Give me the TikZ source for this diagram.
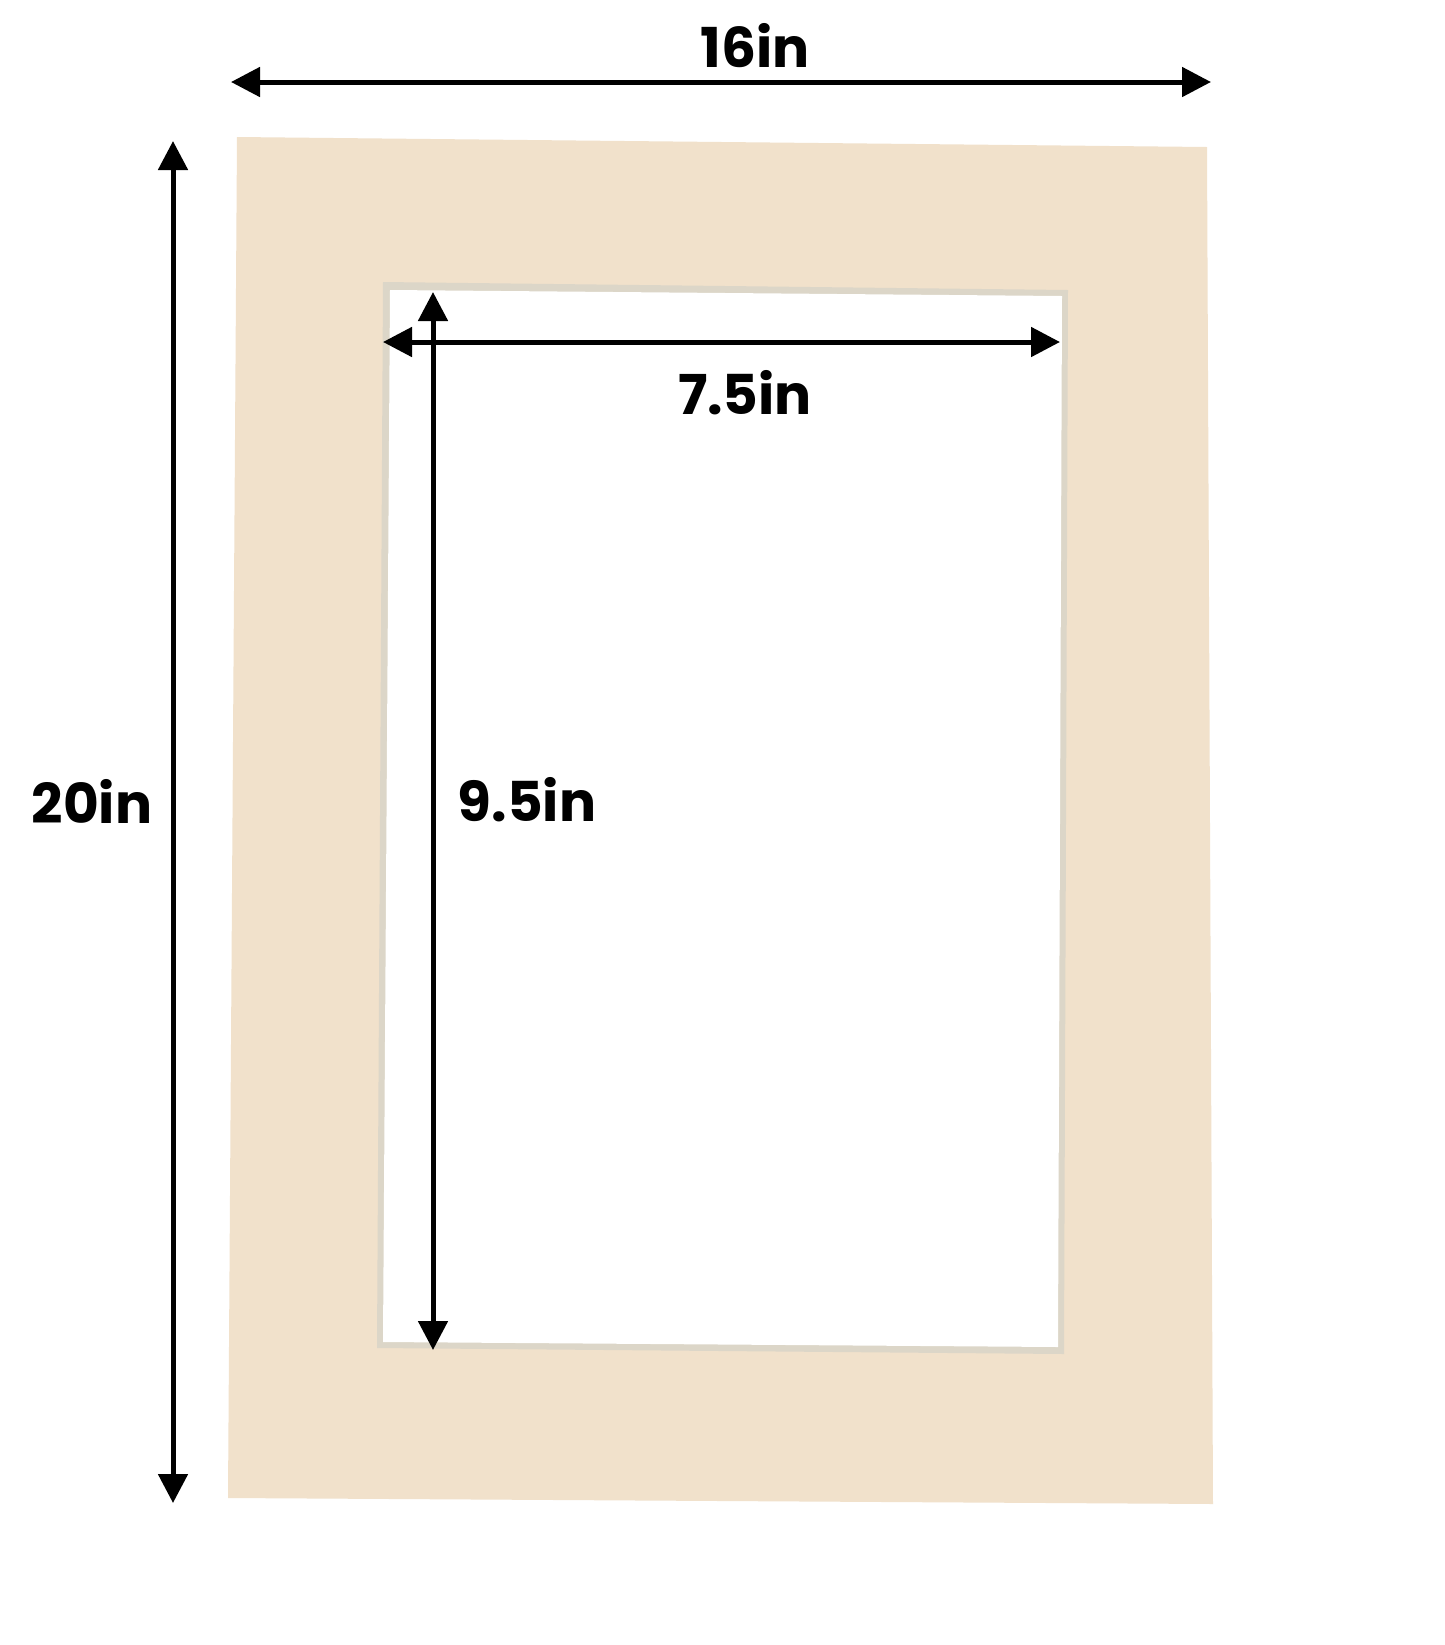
\documentclass[tikz,border=0pt]{standalone}
\usepackage{fontspec}
\setmainfont{Poppins}
\usetikzlibrary{arrows.meta}
\definecolor{matcolor}{RGB}{241,225,203}
\definecolor{bevelcolor}{RGB}{220,214,200}
\begin{document}
\begin{tikzpicture}[x=0.5pt, y=-0.5pt,
  dim/.style={{Triangle[length=14.5pt,width=14.5pt]}-{Triangle[length=14.5pt,width=14.5pt]}, line width=2.5pt, black, shorten <=-0.5pt, shorten >=-0.5pt},
  lbl/.style={font=\fontsize{27.5}{31}\selectfont\bfseries, inner sep=0pt}]
\useasboundingbox[fill=white] (0,0) rectangle (1445,1645);

% mat board
\fill[matcolor] (237,137) -- (1207,147) -- (1213,1504) -- (228,1498) -- cycle;
\fill[bevelcolor] (383,282) -- (1068,290) -- (1064,1354) -- (377,1348) -- cycle;
\fill[white] (390,290) -- (1062,296) -- (1058,1347) -- (383,1342) -- cycle;

% end points
\coordinate (wl) at (232,82);
\coordinate (wr) at (1210,82);
\coordinate (ht) at (173,142);
\coordinate (hb) at (173,1502);
\coordinate (iwl) at (384,342);
\coordinate (iwr) at (1059,342);
\coordinate (iht) at (433,293);
\coordinate (ihb) at (433,1349);

\draw[dim] (wl) -- (wr);
\draw[dim] (ht) -- (hb);
\draw[dim] (iwl) -- (iwr);
\draw[dim] (iht) -- (ihb);

\node[lbl] (width) at (755,46) {16in};
\node[lbl] (height) at (92,801) {20in};
\node[lbl] (iwidth) at (745,393) {7.5in};
\node[lbl] (iheight) at (527,800) {9.5in};
\end{tikzpicture}
\end{document}
